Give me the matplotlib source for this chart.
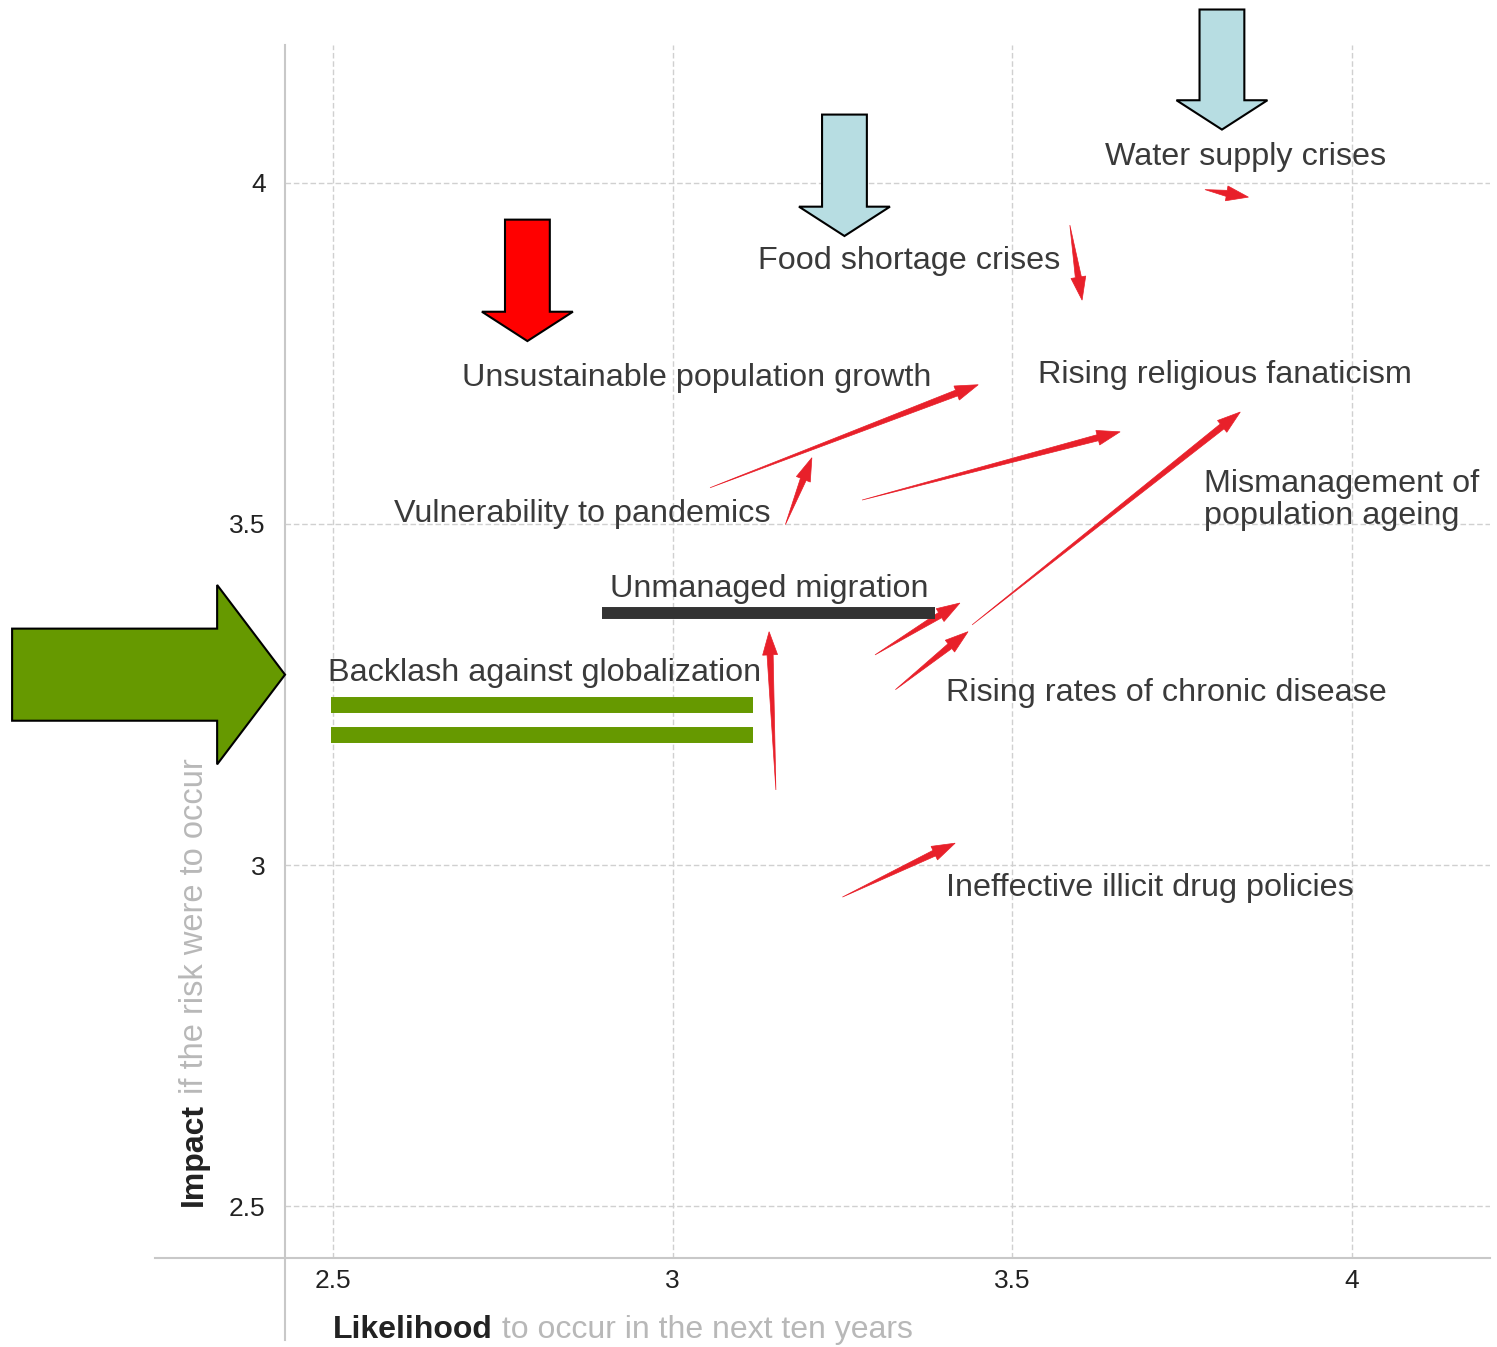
import matplotlib
matplotlib.use("Agg")
import numpy as np
import matplotlib.pyplot as plt
from matplotlib.patches import FancyArrow, Polygon

plt.rcParams['font.family'] = ['Liberation Sans', 'DejaVu Sans']

# Risk labels and where they sit
labels = ["Water supply crises", "Food shortage crises", "Unsustainable population growth",
          "Rising religious fanaticism", "Vulnerability to pandemics",
          "Mismanagement of\npopulation ageing", "Unmanaged migration",
          "Backlash against globalization", "Rising rates of chronic disease",
          "Ineffective illicit drug policies"]
label_x = [3.637, 3.126, 2.689, 3.538, 2.590, 3.783, 2.908, 2.493, 3.403, 3.403]
label_y = [4.038, 3.886, 3.714, 3.718, 3.515, 3.535, 3.405, 3.282, 3.252, 2.966]

# Movement arrows: previous -> current (likelihood, impact)
x_from = [3.784, 3.585, 3.055, 3.166, 3.279, 3.441, 3.298, 3.328, 3.152, 3.250]
y_from = [3.990, 3.938, 3.553, 3.499, 3.535, 3.352, 3.308, 3.257, 3.110, 2.953]
x_to   = [3.848, 3.603, 3.450, 3.205, 3.659, 3.836, 3.423, 3.435, 3.142, 3.416]
y_to   = [3.979, 3.828, 3.704, 3.597, 3.635, 3.664, 3.384, 3.342, 3.342, 3.032]

ticks = [2.5, 3, 3.5, 4]
tick_labels = ["2.5", "3", "3.5", "4"]

fig = plt.figure(figsize=(14.97, 13.47), dpi=100)
ax = fig.add_axes([0.1904, 0.0661, 0.805, 0.9005])
ax.set_xlim(2.429, 4.204)
ax.set_ylim(2.424, 4.202)

for s in ax.spines.values():
    s.set_visible(False)
ax.plot([-0.108, 1], [0, 0], transform=ax.transAxes, color='#c8c8c8', lw=1.5, clip_on=False)
ax.plot([0, 0], [-0.068, 1], transform=ax.transAxes, color='#c8c8c8', lw=1.5, clip_on=False)

ax.set_xticks(ticks)
ax.set_xticklabels(tick_labels)
ax.set_yticks(ticks)
ax.set_yticklabels(tick_labels)
ax.tick_params(axis='both', length=0, labelsize=19, colors='#222222')
ax.tick_params(axis='x', pad=8)
ax.tick_params(axis='y', pad=14)
ax.grid(True, color='#d0d0d0', lw=1, ls=(0, (4, 2)))

# axis titles: bold part + grey part
t1 = ax.text(2.5, 2.319, "Likelihood", fontsize=23, fontweight='bold', color='#222222',
             ha='left', va='center')
ax.annotate(" to occur in the next ten years", xy=(1, 0), xycoords=t1, fontsize=23,
            color='#b8b8b8', ha='left', va='bottom')
t2 = ax.text(2.295, 2.5, "Impact", fontsize=23, fontweight='bold', color='#222222',
             rotation=90, ha='center', va='bottom')
ax.annotate(" if the risk were to occur", xy=(0.5, 1), xycoords=t2, fontsize=23.5,
            color='#b8b8b8', rotation=90, ha='center', va='bottom')


# tapered risk arrows: thin at the old position, arrowhead at the new one
def taper_arrow(x0, y0, x1, y1, w=0.009, hw=0.022, hl=0.034):
    d = np.array([x1 - x0, y1 - y0])
    L = np.hypot(*d)
    u = d / L
    n = np.array([-u[1], u[0]])
    p0 = np.array([x0, y0])
    p1 = np.array([x1, y1])
    base = p1 - u * min(hl, 0.5 * L)
    pts = [p0, base + n * w / 2, base + n * hw / 2, p1, base - n * hw / 2, base - n * w / 2]
    ax.add_patch(Polygon(pts, closed=True, fc='#e8202a', ec='#e8202a', lw=0.5, zorder=3))


for x0, y0, x1, y1 in zip(x_from, y_from, x_to, y_to):
    taper_arrow(x0, y0, x1, y1)

for lab, lx, ly in zip(labels, label_x, label_y):
    ax.text(lx, ly, lab, fontsize=23.3, color='#3a3a3a', ha='left', va='center',
            linespacing=1.1)


# highlight overlays
def block_arrow(tip_x, tip_y, dx, dy, width, head_w, head_l, color):
    ax.add_patch(FancyArrow(tip_x - dx, tip_y - dy, dx, dy, width=width, head_width=head_w,
                            head_length=head_l, length_includes_head=True, fc=color,
                            ec='black', lw=1.5, clip_on=False, zorder=5))


block_arrow(3.253, 3.922, 0, -0.178, 0.066, 0.134, 0.043, '#b7dde2')
block_arrow(3.809, 4.078, 0, -0.176, 0.066, 0.134, 0.043, '#b7dde2')
block_arrow(2.786, 3.768, 0, -0.178, 0.066, 0.134, 0.043, '#ff0000')
block_arrow(2.429, 3.279, 0.402, 0, 0.135, 0.263, 0.100, '#669900')

ax.plot([2.496, 3.119], [3.235, 3.235], color='#669900', lw=11.5, solid_capstyle='butt', zorder=5)
ax.plot([2.496, 3.119], [3.191, 3.191], color='#669900', lw=11.5, solid_capstyle='butt', zorder=5)
ax.plot([2.896, 3.387], [3.370, 3.370], color='#333333', lw=8.6, solid_capstyle='butt', zorder=5)

fig.savefig("out.png", dpi=100)
